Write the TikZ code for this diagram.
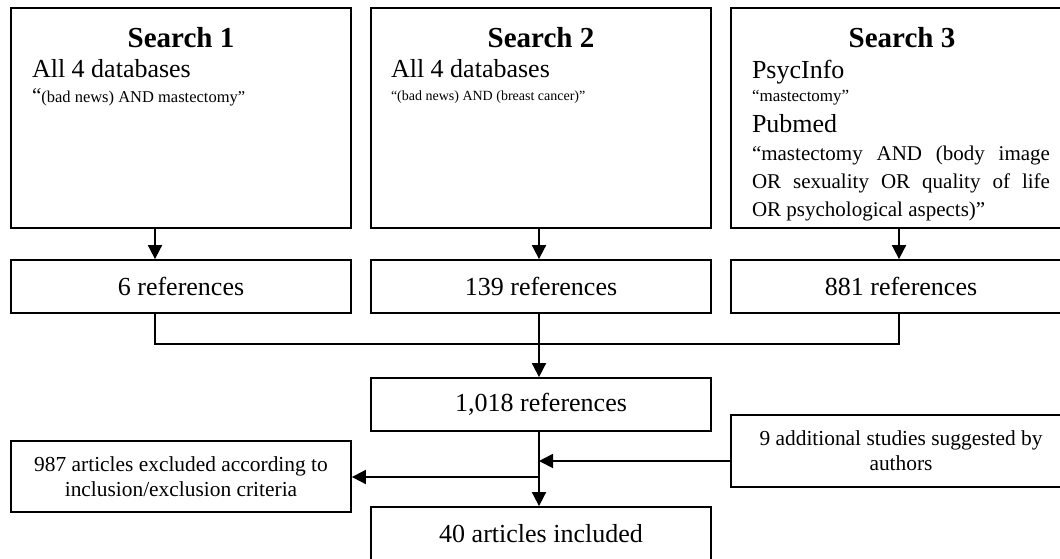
\documentclass[tikz,border=0pt]{standalone}
\usepackage{fontspec}
\setmainfont{Liberation Serif}
\usetikzlibrary{arrows.meta}
\begin{document}
\begin{tikzpicture}[x=1pt,y=-1pt,
  box/.style={draw, line width=1.8pt, minimum width=340pt, inner sep=0pt, align=center},
  txt/.style={inner sep=0pt, outer sep=0pt},
  arr/.style={line width=1.8pt, -{Triangle[width=14pt,length=14pt]}},
  ln/.style={line width=1.8pt},
  big/.style={font=\fontsize{26}{30}\selectfont},
  small/.style={font=\fontsize{21.4}{25}\selectfont},
  ttl/.style={txt, anchor=base, font=\fontsize{29}{34}\selectfont\bfseries},
]
\clip (0,0) rectangle (1060,558);
\fill[white] (0,0) rectangle (1060,558);

% top boxes
\node[box, minimum height=220pt] (s1) at (181,118) {};
\node[box, minimum height=220pt] (s2) at (541,118) {};
\node[box, minimum height=220pt] (s3) at (901,118) {};

\node[ttl] (t1) at (181,47) {Search 1};
\node[ttl] (t2) at (541,47) {Search 2};
\node[ttl] (t3) at (902,47) {Search 3};

\node[txt, anchor=base west, big] (d1) at (32,77) {All 4 databases};
\node[txt, anchor=base west, font=\fontsize{16.5}{20}\selectfont] (q1) at (32,102) {{\fontsize{21}{24}\selectfont“}(bad news) AND mastectomy”};

\node[txt, anchor=base west, big] (d2) at (391,77) {All 4 databases};
\node[txt, anchor=base west, font=\fontsize{14}{17}\selectfont] (q2) at (391,100) {“(bad news) AND (breast cancer)”};

\node[txt, anchor=base west, big] (p3) at (752,78) {PsycInfo};
\node[txt, anchor=base west, font=\fontsize{17}{20}\selectfont] (m3) at (752,101) {“mastectomy”};
\node[txt, anchor=base west, big] (u3) at (752,132) {Pubmed};
\node[txt, anchor=base west, font=\fontsize{21}{28}\selectfont] (b3) at (752,160) {\parbox[t]{298pt}{\fontsize{21}{28}\selectfont “mastectomy AND (body image\linebreak OR sexuality OR quality of life\linebreak OR psychological aspects)”}};

% second row
\node[box, minimum height=53pt, big] (r1) at (181,286.5) {6 references};
\node[box, minimum height=53pt, big] (r2) at (541,286.5) {139 references};
\node[box, minimum height=53pt, big] (r3) at (901,286.5) {881 references};

\node[box, minimum height=53pt, big] (all) at (541,404.5) {1,018 references};
\node[box, minimum height=71pt, small] (exc) at (181,476.5) {987 articles excluded according to\\inclusion/exclusion criteria};
\node[box, minimum height=72pt, small] (add) at (901,451) {9 additional studies suggested by\\authors};
\node[box, minimum height=53pt, big] (inc) at (541,533.5) {40 articles included};

% helper coordinates
\coordinate (c1) at (155,0);
\coordinate (c2) at (539,0);
\coordinate (c3) at (899,0);
\coordinate (j) at (0,344);
\coordinate (ja) at (0,461);
\coordinate (jb) at (0,477);

\draw[arr] (s1.south -| c1) -- (r1.north -| c1);
\draw[arr] (s2.south -| c2) -- (r2.north -| c2);
\draw[arr] (s3.south -| c3) -- (r3.north -| c3);
\draw[ln] (r1.south -| c1) |- (j -| c3) -- (r3.south -| c3);
\draw[arr] (r2.south -| c2) -- (all.north -| c2);
\draw[arr] (all.south -| c2) -- (inc.north -| c2);
\draw[arr] (add.west |- ja) -- (ja -| c2);
\draw[arr] (jb -| c2) -- (exc.east |- jb);
\end{tikzpicture}
\end{document}
